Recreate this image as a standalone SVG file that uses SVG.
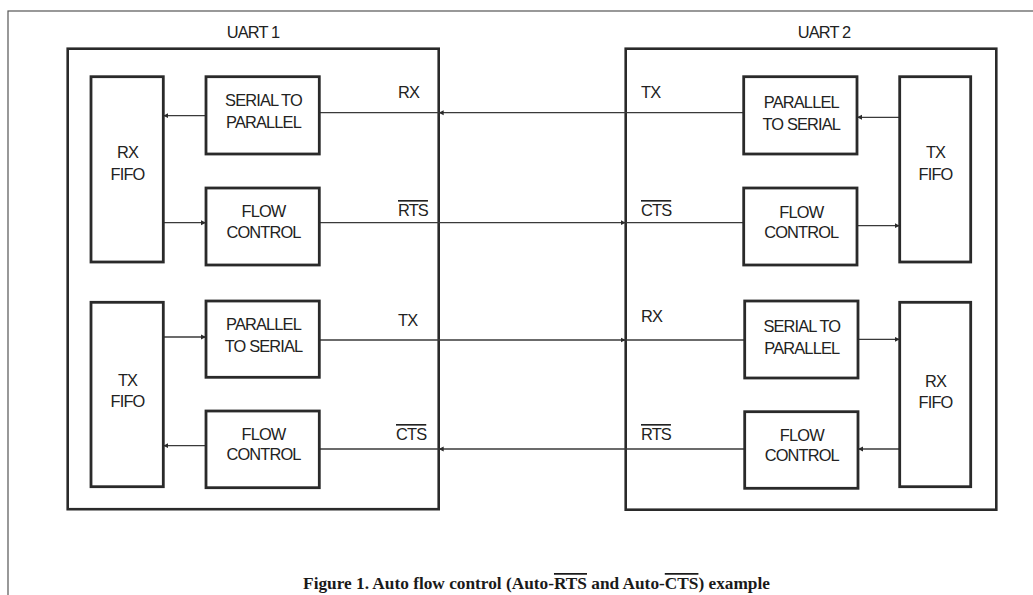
<svg xmlns="http://www.w3.org/2000/svg" width="1033" height="595" viewBox="0 0 1033 595">
<style>
.frame{fill:none;stroke:#555;stroke-width:1.2}
.uart{fill:none;stroke:#2a2a2a;stroke-width:2.6}
.blk{fill:#fff;stroke:#2a2a2a;stroke-width:2.8}
.t{font-family:"Liberation Sans",Arial,sans-serif;font-size:16.4px;letter-spacing:-0.85px;fill:#222;text-anchor:middle}
.lbl{font-family:"Liberation Sans",Arial,sans-serif;font-size:16.4px;letter-spacing:-0.85px;fill:#222}
.ov{text-decoration:overline}
.cap{font-family:"Liberation Serif","Times New Roman",serif;font-size:17.3px;font-weight:bold;fill:#1a1a1a;text-anchor:middle}
.c{fill:none;stroke:#3a3a3a;stroke-width:1.3}
</style>
<defs>
<marker id="ah" markerUnits="userSpaceOnUse" markerWidth="6" markerHeight="6" refX="5" refY="3" orient="auto">
<path d="M0,0.5 L5,3 L0,5.5 z" fill="#2a2a2a"/>
</marker>
</defs>
<rect class="frame" x="8" y="11" width="1100" height="700"/>

<g id="uart1">
<rect class="uart" x="67.7" y="48.7" width="371" height="460.5"/>
<text class="t" x="253" y="38">UART 1</text>
</g>
<g id="uart2">
<rect class="uart" x="625.7" y="48.7" width="370.6" height="461"/>
<text class="t" x="824" y="38">UART 2</text>
</g>

<g id="connectors">
<path class="c" d="M743.7,112.7 H438.7" marker-end="url(#ah)"/>
<path class="c" d="M438.7,112.7 H319.3"/>
<path class="c" d="M206,115.7 H163.3" marker-end="url(#ah)"/>
<path class="c" d="M319.3,222.7 H625.7" marker-end="url(#ah)"/>
<path class="c" d="M625.7,222.7 H743.7"/>
<path class="c" d="M163.3,222.7 H206" marker-end="url(#ah)"/>
<path class="c" d="M163.3,337 H206" marker-end="url(#ah)"/>
<path class="c" d="M319.3,340 H625.7" marker-end="url(#ah)"/>
<path class="c" d="M625.7,340 H744.7"/>
<path class="c" d="M858,449 H438.7" marker-end="url(#ah)"/>
<path class="c" d="M438.7,449 H319.3"/>
<path class="c" d="M206,445.7 H163.3" marker-end="url(#ah)"/>
<path class="c" d="M899.7,117.3 H857" marker-end="url(#ah)"/>
<path class="c" d="M857,225.7 H899.7" marker-end="url(#ah)"/>
<path class="c" d="M858,339.3 H899.7" marker-end="url(#ah)"/>
<path class="c" d="M899.7,449 H858" marker-end="url(#ah)"/>
</g>

<g id="u1-rxfifo">
<rect class="blk" x="91" y="76.7" width="72.3" height="185.3"/>
<text class="t" x="127.5" y="158">RX</text>
<text class="t" x="127.5" y="180">FIFO</text>
</g>
<g id="u1-s2p">
<rect class="blk" x="206" y="76.7" width="113.3" height="77.3"/>
<text class="t" x="263.5" y="106">SERIAL TO</text>
<text class="t" x="263.5" y="127.5">PARALLEL</text>
</g>
<g id="u1-fc1">
<rect class="blk" x="206" y="188" width="113.3" height="77"/>
<text class="t" x="263.5" y="217">FLOW</text>
<text class="t" x="263.5" y="238">CONTROL</text>
</g>
<g id="u1-txfifo">
<rect class="blk" x="91" y="302.3" width="72.3" height="184.4"/>
<text class="t" x="127.5" y="386">TX</text>
<text class="t" x="127.5" y="407.3">FIFO</text>
</g>
<g id="u1-p2s">
<rect class="blk" x="206" y="301" width="113.3" height="76.3"/>
<text class="t" x="263.5" y="330">PARALLEL</text>
<text class="t" x="263.5" y="351.7">TO SERIAL</text>
</g>
<g id="u1-fc2">
<rect class="blk" x="206" y="411" width="113.3" height="76.7"/>
<text class="t" x="263.5" y="440">FLOW</text>
<text class="t" x="263.5" y="460">CONTROL</text>
</g>

<g id="u2-p2s">
<rect class="blk" x="743.7" y="76.7" width="113.3" height="77.3"/>
<text class="t" x="801.3" y="108">PARALLEL</text>
<text class="t" x="801.3" y="130">TO SERIAL</text>
</g>
<g id="u2-fc1">
<rect class="blk" x="743.7" y="188" width="113.3" height="77"/>
<text class="t" x="801.3" y="218">FLOW</text>
<text class="t" x="801.3" y="238">CONTROL</text>
</g>
<g id="u2-txfifo">
<rect class="blk" x="899.7" y="76.7" width="71" height="185.3"/>
<text class="t" x="935.5" y="158">TX</text>
<text class="t" x="935.5" y="180">FIFO</text>
</g>
<g id="u2-s2p">
<rect class="blk" x="744.7" y="301" width="113.3" height="77"/>
<text class="t" x="801.8" y="332.3">SERIAL TO</text>
<text class="t" x="801.8" y="354">PARALLEL</text>
</g>
<g id="u2-fc2">
<rect class="blk" x="744.7" y="411.7" width="113.3" height="76.6"/>
<text class="t" x="801.8" y="440.7">FLOW</text>
<text class="t" x="801.8" y="461">CONTROL</text>
</g>
<g id="u2-rxfifo">
<rect class="blk" x="899.7" y="302.3" width="71" height="184.4"/>
<text class="t" x="935.5" y="386.7">RX</text>
<text class="t" x="935.5" y="408.3">FIFO</text>
</g>

<g id="labels">
<text class="lbl" x="398" y="97.7">RX</text>
<text class="lbl ov" x="398" y="216">RTS</text>
<text class="lbl" x="398" y="325.7">TX</text>
<text class="lbl ov" x="396" y="440">CTS</text>
<text class="lbl" x="641" y="97.7">TX</text>
<text class="lbl ov" x="641" y="216">CTS</text>
<text class="lbl" x="641" y="321.7">RX</text>
<text class="lbl ov" x="641" y="440">RTS</text>
</g>

<text class="cap" x="536.5" y="589">Figure 1. Auto flow control (Auto-<tspan class="ov">RTS</tspan> and Auto-<tspan class="ov">CTS</tspan>) example</text>
</svg>
